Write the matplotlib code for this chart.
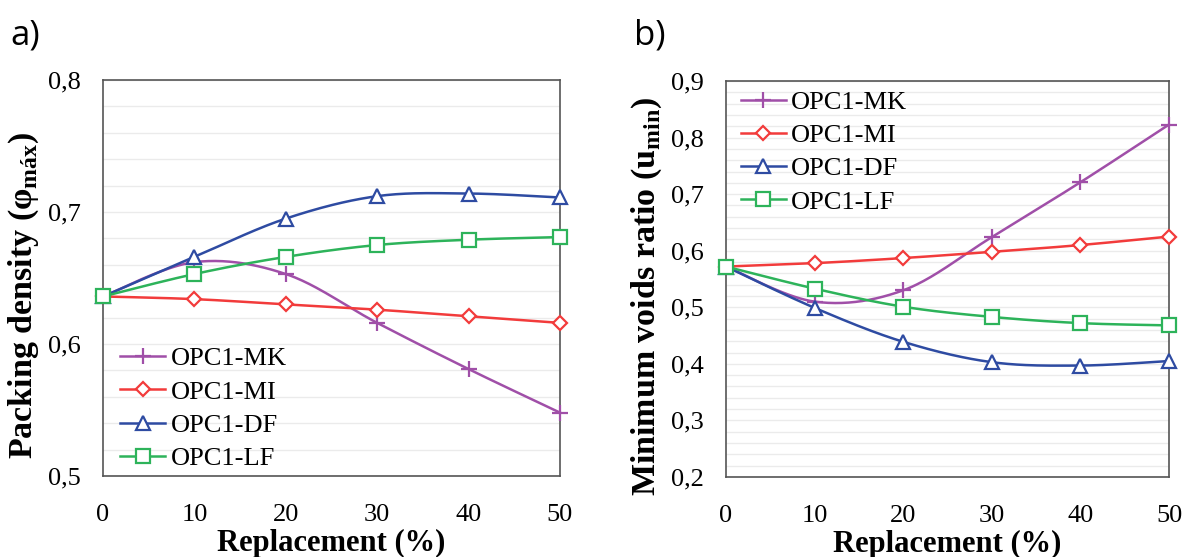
import numpy as np
import matplotlib
matplotlib.use('Agg')
import matplotlib.pyplot as plt
from matplotlib.lines import Line2D

plt.rcParams['font.family'] = ['Liberation Serif', 'DejaVu Serif']
plt.rcParams['mathtext.fontset'] = 'custom'
plt.rcParams['mathtext.rm'] = 'Liberation Serif'
plt.rcParams['mathtext.bf'] = 'Liberation Serif:bold'

replacement = [0, 10, 20, 30, 40, 50]
series_names = ['OPC1-MK', 'OPC1-MI', 'OPC1-DF', 'OPC1-LF']

# a) packing density
pd_mk = [0.636, 0.662, 0.653, 0.616, 0.581, 0.548]
pd_mi = [0.636, 0.634, 0.630, 0.626, 0.621, 0.616]
pd_df = [0.636, 0.666, 0.695, 0.712, 0.714, 0.711]
pd_lf = [0.636, 0.653, 0.666, 0.675, 0.679, 0.681]

# b) minimum voids ratio
vr_mk = [0.572, 0.510, 0.530, 0.624, 0.721, 0.823]
vr_mi = [0.572, 0.578, 0.587, 0.598, 0.610, 0.625]
vr_df = [0.572, 0.499, 0.439, 0.403, 0.397, 0.405]
vr_lf = [0.572, 0.533, 0.501, 0.483, 0.472, 0.468]

colors = ['#A04FA8', '#F23B3B', '#2E4BA2', '#2DB35A']
markers = ['+', 'D', '^', 's']
msizes = [11, 7.5, 10, 10]


def smooth(x, y, n=40):
    # excel-like smoothed line (bezier through points)
    pts = np.column_stack([x, y]).astype(float)
    out = []
    for i in range(len(pts) - 1):
        p0 = pts[i - 1] if i > 0 else pts[i]
        p1 = pts[i]
        p2 = pts[i + 1]
        p3 = pts[i + 2] if i + 2 < len(pts) else pts[i + 1]
        c1 = p1 + (p2 - p0) / 6
        c2 = p2 - (p3 - p1) / 6
        t = np.linspace(0, 1, n)[:, None]
        seg = (1 - t) ** 3 * p1 + 3 * (1 - t) ** 2 * t * c1 + 3 * (1 - t) * t ** 2 * c2 + t ** 3 * p2
        out.append(seg if i == 0 else seg[1:])
    return np.vstack(out)


def draw(ax, data, ylim, ystep, ylabel, legend_kw):
    for ys, c, m, ms in zip(data, colors, markers, msizes):
        s = smooth(replacement, ys)
        ax.plot(s[:, 0], s[:, 1], color=c, lw=1.8, zorder=3, clip_on=False)
        ax.plot(replacement, ys, linestyle='none', marker=m, ms=ms, mfc='white' if m != '+' else c,
                mec=c, mew=1.6, color=c, zorder=4, clip_on=False)
    ax.set_xlim(0, 50)
    ax.set_ylim(*ylim)
    ax.set_xticks(replacement)
    major = np.round(np.arange(ylim[0], ylim[1] + 1e-9, 0.1), 2)
    ax.set_yticks(major)
    ax.set_yticklabels([f'{v:.1f}'.replace('.', ',') for v in major])
    ax.set_yticks(np.arange(ylim[0], ylim[1] + 1e-9, ystep), minor=True)
    ax.grid(True, which='both', axis='y', color='#EBEBEB', lw=1, zorder=0)
    ax.set_axisbelow(True)
    ax.tick_params(which='both', length=0, labelsize=19)
    ax.tick_params(axis='x', pad=20)
    ax.tick_params(axis='y', pad=16)
    for sp in ax.spines.values():
        sp.set_color('#555555')
        sp.set_linewidth(1.2)
    ax.set_xlabel('Replacement (%)', fontsize=22, fontweight='bold', labelpad=2)
    ax.set_ylabel(ylabel, fontsize=24.5, fontweight='bold', labelpad=5, y=0.455)
    handles = [Line2D([], [], color=c, lw=1.8, marker=m, ms=ms, mfc='white' if m != '+' else c,
                      mec=c, mew=1.6) for c, m, ms in zip(colors, markers, msizes)]
    ax.legend(handles, series_names, frameon=False, fontsize=19, handlelength=1.7,
              handletextpad=0.2, labelspacing=0.37, borderaxespad=0, **legend_kw)


fig = plt.figure(figsize=(11.85, 5.57), dpi=100)
ax1 = fig.add_axes([103 / 1185, 1 - 476 / 557, 457 / 1185, 396 / 557])
ax2 = fig.add_axes([726 / 1185, 1 - 477 / 557, 443 / 1185, 396 / 557])

draw(ax1, [pd_mk, pd_mi, pd_df, pd_lf], (0.5, 0.8), 0.02,
     'Packing density (φ$_{\\mathbf{máx}}$)',
     dict(loc='lower left', bbox_to_anchor=(0.015, -0.012)))
draw(ax2, [vr_mk, vr_mi, vr_df, vr_lf], (0.2, 0.9), 0.02,
     'Minimum voids ratio (u$_{\\mathbf{min}}$)',
     dict(loc='upper left', bbox_to_anchor=(0.01, 1.003)))

fig.text(10 / 1185, 1 - 35 / 557, 'a)', fontsize=25, family='Open Sans', va='center')
fig.text(634 / 1185, 1 - 35 / 557, 'b)', fontsize=25, family='Open Sans', va='center')

fig.savefig('out.png', dpi=100)
